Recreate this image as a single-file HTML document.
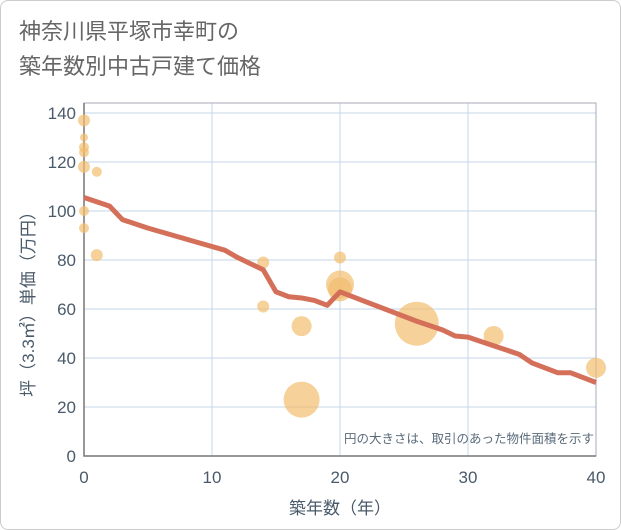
<!DOCTYPE html>
<html><head><meta charset="utf-8"><style>
body{margin:0;background:#fff}
.wrap{width:619px;height:528px;border:1px solid #ccc;border-radius:8px;position:relative;overflow:hidden;font-family:"Liberation Sans","Noto Sans CJK JP",sans-serif}
.title{position:absolute;left:18px;top:13px;font-size:22px;line-height:35px;color:#666}
</style></head><body>
<div class="wrap">
<div class="title">神奈川県平塚市幸町の<br>築年数別中古戸建て価格</div>
<svg id="chart" width="621" height="530" style="position:absolute;left:-1px;top:-1px"></svg>
</div>
<script>
const xTicks=[0,10,20,30,40];
const yTicks=[0,20,40,60,80,100,120,140];
const lineX=[0,2,3,5,7,9,11,12,14,15,16,17,18,19,20,22,24,26,28,29,30,32,34,35,37,38,40];
const lineY=[105.5,102,96.5,93,90,87,84,81,76,67,65,64.5,63.5,61.5,67,63,59,55,51.5,49,48.5,45,41.5,38,34,34,30];
const bubX=[0,0,0,0,0,0,0,1,1,14,14,17,17,20,20,20,26,32,40];
const bubY=[137,130,126,124,118,100,93,116,82,79,61,53,23,81,70,68,54,49,36];
const bubR=[6,4,5,5,6,5,5,5,6,6,6,10,18,6,14,12,22,10,10];
const L=84,R=596,T=103,B=456;
const sx=v=>L+(v-0)/40*(R-L);
const sy=v=>B-v*2.45;
const svg=document.getElementById('chart');const NS='http://www.w3.org/2000/svg';
function mk(t,a){const e=document.createElementNS(NS,t);for(const k in a)e.setAttribute(k,a[k]);svg.appendChild(e);return e;}
xTicks.forEach(v=>{const l=mk('line',{x1:sx(v),x2:sx(v),y1:T,y2:B,stroke:'#c5d5e8','stroke-width':1});

const t=mk('text',{x:sx(v),y:483,'text-anchor':'middle','font-size':17,fill:'#4a5a6a'});t.textContent=v;
});
yTicks.forEach(v=>{const l=mk('line',{x1:L,x2:R,y1:sy(v),y2:sy(v),stroke:'#c5d5e8','stroke-width':1});

const t=mk('text',{x:76,y:sy(v)+6,'text-anchor':'end','font-size':17,fill:'#4a5a6a'});t.textContent=v;
});
const fr=mk('rect',{x:L,y:T,width:R-L,height:B-T,fill:'none',stroke:'#aab','stroke-width':1});

const ax=mk('polyline',{points:`${L},${T} ${L},${B} ${R},${B}`,fill:'none',stroke:'#777','stroke-width':1.5});

bubX.forEach((x,i)=>{const c=mk('circle',{cx:sx(x),cy:sy(bubY[i]),r:bubR[i],fill:'rgba(242,190,110,0.7)'});
});
const p=mk('polyline',{points:lineX.map((x,i)=>sx(x)+','+sy(lineY[i])).join(' '),fill:'none',stroke:'#d4705a','stroke-width':5,'stroke-linejoin':'round'});

const n=mk('text',{x:594,y:443,'text-anchor':'end','font-size':12.5,fill:'#5a6a7a'});n.textContent='円の大きさは、取引のあった物件面積を示す';

const xt=mk('text',{x:340,y:514,'text-anchor':'middle','font-size':17,fill:'#4a5a6a'});xt.textContent='築年数（年）';

const yt=mk('text',{x:0,y:0,'text-anchor':'middle','font-size':17,fill:'#4a5a6a',transform:'translate(34,300) rotate(-90)'});yt.textContent='坪（3.3㎡）単価（万円）';

</script>
</body></html>
